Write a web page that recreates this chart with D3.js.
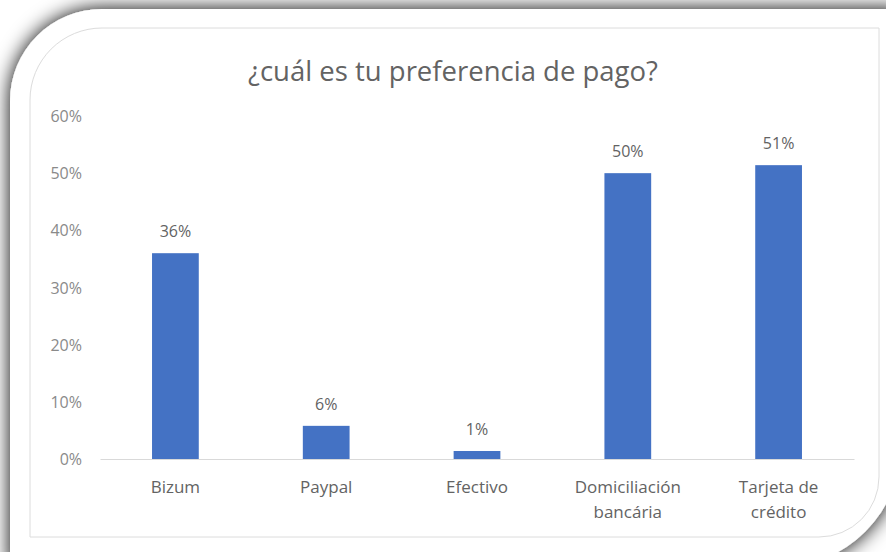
<!DOCTYPE html>
<html>
<head>
<meta charset="utf-8">
<script src="https://cdn.jsdelivr.net/npm/d3@7"></script>
<style>
  body { margin: 0; background: #fff; }
  svg { display: block; }
</style>
</head>
<body>
<div id="chart-area"></div>
<script>
const categories = ["Bizum", "Paypal", "Efectivo", "Domiciliación bancária", "Tarjeta de crédito"];
const categoryLines = [["Bizum"], ["Paypal"], ["Efectivo"], ["Domiciliación", "bancária"], ["Tarjeta de", "crédito"]];
const values = [0.36, 0.058, 0.014, 0.50, 0.514];
const yTicks = [0, 0.1, 0.2, 0.3, 0.4, 0.5, 0.6];
const title = "¿cuál es tu preferencia de pago?";

const canvasWidth = 886;
const canvasHeight = 552;
const margin = { left: 100, top: 116, right: 32, bottom: 93 };
const chartWidth = canvasWidth - margin.left - margin.right;
const chartHeight = canvasHeight - margin.top - margin.bottom;

const textColor = "#636363";
const fontFamily = "'Open Sans', 'Noto Sans', sans-serif";
const pct = d3.format(".0%");

const canvas = d3.select("#chart-area").append("svg")
  .attr("width", canvasWidth)
  .attr("height", canvasHeight);

// drop shadow for the card
const defs = canvas.append("defs");
const shadow = defs.append("filter").attr("id", "shadow")
  .attr("x", "-20%").attr("y", "-20%").attr("width", "140%").attr("height", "140%");
shadow.append("feDropShadow")
  .attr("dx", 0).attr("dy", 0).attr("stdDeviation", 10)
  .attr("flood-color", "#000").attr("flood-opacity", 1);

// card with big rounded top-left and bottom-right corners
function cardPath(x0, y0, x1, y1, r1, r2) {
  return `M${x0},${y0 + r1} A${r1},${r1} 0 0 1 ${x0 + r1},${y0}
    L${x1},${y0} L${x1},${y1 - r2} A${r2},${r2} 0 0 1 ${x1 - r2},${y1}
    L${x0},${y1} Z`;
}

canvas.append("path")
  .attr("d", cardPath(10, 9, 902, 568, 92, 125))
  .attr("fill", "#fff")
  .attr("filter", "url(#shadow)");

canvas.append("path")
  .attr("d", cardPath(30, 28, 879, 537, 72, 60))
  .attr("fill", "none")
  .attr("stroke", "#dcdcdc")
  .attr("stroke-width", 1);

canvas.append("text")
  .attr("x", canvasWidth / 2 + 10)
  .attr("y", 81)
  .attr("text-anchor", "middle")
  .attr("font-family", fontFamily)
  .attr("font-size", "27.5px")
  .attr("fill", textColor)
  .text(title);

const chartGroup = canvas.append("g").attr("transform", `translate(${margin.left}, ${margin.top})`);

const yScale = d3.scaleLinear().domain([0, 0.6]).range([chartHeight, 0]);
const xScale = d3.scaleBand().domain(categories).range([0, chartWidth]).paddingInner(0.69).paddingOuter(0.345);

// baseline
const xAxisGroup = chartGroup.append("g").attr("transform", `translate(0, ${chartHeight})`)
  .call(d3.axisBottom(xScale).tickSize(0));
xAxisGroup.select(".domain").attr("stroke", "#d9d9d9").attr("stroke-width", 1.2);
xAxisGroup.selectAll(".tick text").remove();

// category labels, on two lines like the original
xAxisGroup.selectAll(".tick").each(function(d, i) {
  const t = d3.select(this).append("text")
    .attr("fill", textColor)
    .attr("font-family", fontFamily)
    .attr("font-size", "17px")
    .attr("text-anchor", "middle");
  categoryLines[i].forEach((line, j) => {
    t.append("tspan").attr("x", 0).attr("y", 34 + j * 25).text(line);
  });
});

const yAxisGroup = chartGroup.append("g")
  .call(d3.axisLeft(yScale).tickValues(yTicks).tickFormat(pct).tickSize(0).tickPadding(18));
yAxisGroup.select(".domain").remove();
yAxisGroup.selectAll(".tick text")
  .attr("fill", "#8a8a8a")
  .attr("font-family", fontFamily)
  .attr("font-size", "16px")
  .attr("dy", "0.35em");

chartGroup.selectAll("rect.bar")
  .data(values)
  .enter()
  .append("rect")
  .attr("class", "bar")
  .attr("x", (d, i) => xScale(categories[i]))
  .attr("y", d => yScale(d))
  .attr("width", xScale.bandwidth())
  .attr("height", d => chartHeight - yScale(d))
  .attr("fill", "#4472c4");

chartGroup.selectAll("text.value")
  .data(values)
  .enter()
  .append("text")
  .attr("class", "value")
  .attr("x", (d, i) => xScale(categories[i]) + xScale.bandwidth() / 2)
  .attr("y", d => yScale(d) - 16)
  .attr("text-anchor", "middle")
  .attr("font-family", fontFamily)
  .attr("font-size", "16px")
  .attr("fill", textColor)
  .text(d => pct(d));
</script>
</body>
</html>
